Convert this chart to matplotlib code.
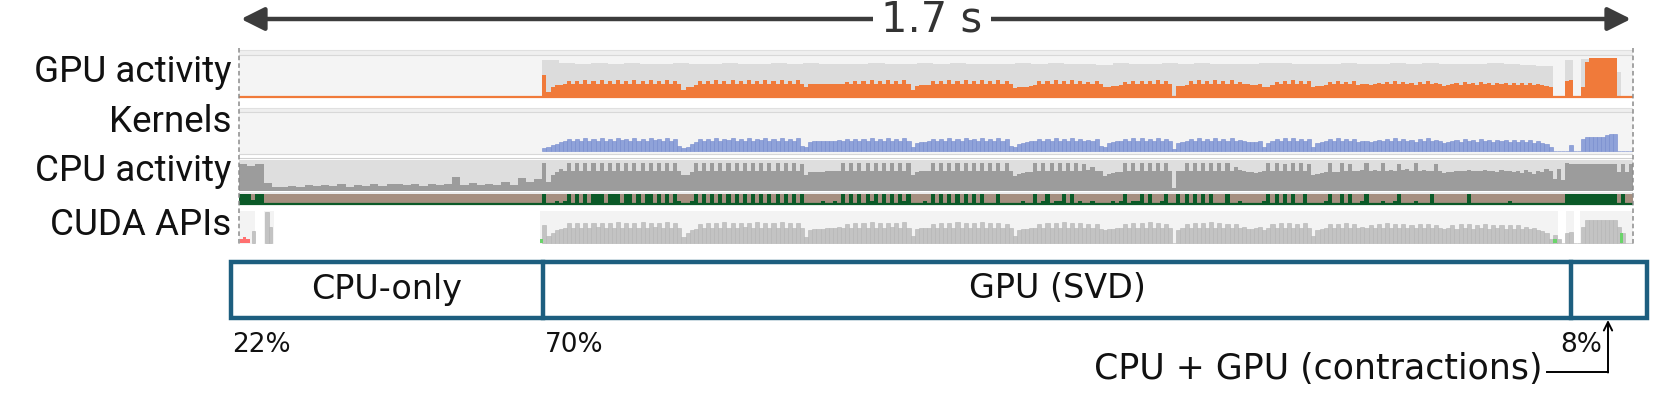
import numpy as np
import matplotlib
matplotlib.use("Agg")
import matplotlib.pyplot as plt
from matplotlib.patches import Rectangle

# ---------------- data ----------------
TOTAL_MS = 1700
track_labels = ["GPU activity", "Kernels", "CPU activity", "CUDA APIs"]
phase_labels = ["CPU-only", "GPU (SVD)", ""]
phase_pcts = ["22%", "70%", "8%"]
tail_label = "CPU + GPU (contractions)"
duration_label = "1.7 s"

# time windows (ms)
SVD_T0, SVD_T1 = 370, 1602
TAIL_T0, TAIL_T1 = 1602, 1700
PRE_T0, PRE_T1 = 0, 370

# CPU-only phase: CPU utilisation (10 ms bins, % of track)
cpu_pre = [88, 80, 88, 25, 12, 12, 16, 14, 18, 15, 20, 16, 22, 14, 20, 16, 22, 16,
           24, 24, 18, 22, 16, 24, 18, 24, 45, 20, 26, 18, 24, 20, 30, 18, 42, 30, 40]
green_pre = [100, 100, 100, 40, 100, 100]          # 5 ms bins from t=0
cuda_err_t = [1, 5, 9]
cuda_err_h = [12, 18, 12]
cuda_pre_t = [16, 32, 36]
cuda_pre_h = [36, 98, 50]
cuda_spans = [(0, 20), (30, 43), (367, 1608), (1618, 1628), (1635, 1700)]

# SVD phase: GPU envelope (20 ms bins, % of track)
gpu_max = [90, 82, 80, 81, 79, 82, 80, 80, 81, 79,
           80, 82, 80, 79, 81, 80, 82, 80, 79, 80,
           81, 80, 79, 82, 80, 81, 80, 79, 80, 82,
           80, 81, 79, 80, 78, 81, 80, 79, 82, 80,
           81, 80, 79, 80, 82, 81, 80, 79, 80, 81,
           80, 79, 82, 80, 81, 80, 79, 80, 81, 80,
           78, 74]

# SVD phase, 5 ms bins (% of track)
gpu_util = [52, 12, 22, 27, 28, 30, 38, 30, 38, 30, 40, 30, 38, 31, 40, 30, 38, 30, 40, 31,
            38, 30, 40, 30, 38, 30, 40, 31, 38, 30, 40, 30, 38, 31,
            16, 22, 24, 28, 38, 30, 38, 30, 40, 30, 38, 31, 40, 30, 38, 30, 40, 30, 38, 31,
            40, 30, 38, 30, 40, 30, 38, 30, 40, 31,
            24, 30, 30, 30, 30, 30, 30, 30, 31, 30, 36, 30, 38, 30, 38, 30, 40, 30, 38, 30,
            40, 30, 38, 30, 40, 30,
            16, 26, 28, 28, 28, 38, 30, 38, 30, 40, 30, 38, 30, 40, 31, 38, 30, 40, 30, 38,
            30, 40, 30, 38, 30,
            20, 24, 24, 24, 26, 28, 38, 30, 38, 30, 40, 30, 38, 30, 40, 30, 38, 30, 36, 30,
            38, 30,
            24, 24, 26, 26, 28, 36, 30, 38, 30, 38, 30, 38, 30, 40, 30, 38, 30,
            0, 26, 26, 28, 38, 30, 40, 30, 38, 30, 40, 30, 38, 30, 40, 30, 36, 30, 30, 28,
            28, 30, 24, 24, 28, 36, 30, 38, 30, 40, 30, 38, 30, 38,
            22, 26, 26, 28, 36, 30, 38, 30, 36, 30, 38, 28, 30, 30, 28, 30, 34, 30, 36, 30,
            38, 30, 36, 30, 34, 28, 36, 30, 38, 30, 34, 30,
            26, 28, 30, 34, 28, 36, 30, 34, 28, 36, 30, 34, 28, 34, 30, 34, 28, 34, 28, 32,
            28, 34, 28, 30, 28, 26, 22]

kernels = [6, 8, 14, 18, 22, 24, 30, 24, 30, 24, 32, 24, 30, 24, 32, 24, 30, 24, 32, 26,
           30, 24, 32, 24, 30, 24, 32, 26, 30, 24, 32, 24, 30, 12,
           6, 10, 18, 22, 30, 24, 30, 24, 32, 24, 30, 26, 32, 24, 30, 24, 32, 24, 30, 26,
           32, 24, 30, 24, 32, 24, 30, 24, 32, 12,
           8, 22, 24, 24, 24, 24, 24, 24, 26, 24, 30, 24, 30, 24, 30, 24, 32, 24, 30, 24,
           32, 24, 30, 24, 32, 24,
           8, 20, 22, 22, 24, 30, 24, 30, 24, 32, 24, 30, 24, 32, 26, 30, 24, 32, 24, 30,
           24, 32, 24, 30, 12,
           8, 18, 20, 22, 24, 24, 30, 24, 30, 24, 32, 24, 30, 24, 32, 24, 30, 24, 28, 24,
           30, 12,
           8, 20, 22, 24, 24, 30, 24, 32, 24, 32, 24, 30, 24, 32, 24, 30, 24,
           4, 20, 22, 24, 30, 24, 32, 24, 30, 24, 32, 24, 30, 24, 32, 24, 28, 24, 22, 22,
           22, 24, 8, 20, 24, 30, 24, 32, 24, 32, 24, 30, 24, 30,
           8, 20, 22, 24, 30, 24, 32, 24, 30, 24, 30, 22, 24, 24, 22, 24, 28, 24, 30, 24,
           32, 24, 30, 24, 28, 22, 30, 24, 32, 24, 28, 24,
           20, 22, 24, 28, 22, 30, 24, 28, 22, 30, 24, 28, 22, 28, 24, 28, 22, 26, 22, 26,
           22, 28, 20, 24, 20, 18, 10]

cpu_util = [90, 30, 50, 62, 70, 66, 90, 66, 90, 66, 90, 66, 90, 66, 90, 66, 90, 66, 90, 66,
            90, 66, 90, 66, 90, 66, 90, 66, 90, 66, 90, 66, 90, 66,
            52, 52, 60, 90, 66, 90, 66, 90, 66, 90, 66, 90, 66, 90, 66, 90, 66, 90, 66, 90,
            66, 90, 66, 90, 66, 90, 66, 90, 66, 88,
            50, 60, 60, 62, 62, 64, 64, 66, 66, 90, 66, 90, 66, 90, 66, 90, 66, 90, 66, 90,
            66, 90, 66, 90, 66, 90,
            50, 62, 64, 64, 64, 90, 66, 90, 66, 90, 66, 90, 66, 90, 66, 90, 66, 90, 66, 90,
            66, 90, 66, 90, 66,
            48, 56, 58, 60, 62, 90, 66, 90, 66, 90, 66, 90, 66, 90, 66, 90, 66, 86, 68, 78,
            66, 64,
            48, 56, 58, 60, 62, 90, 66, 90, 66, 90, 66, 90, 66, 90, 66, 90, 66,
            10, 64, 66, 90, 66, 90, 66, 90, 66, 90, 66, 90, 66, 90, 66, 78, 68, 64, 62, 60,
            58, 60, 66, 90, 66, 90, 66, 88, 66, 90, 66, 90, 66, 88,
            52, 56, 58, 60, 90, 60, 62, 90, 64, 88, 64, 66, 68, 90, 66, 68, 64, 90, 66, 68,
            66, 88, 68, 70, 64, 90, 66, 68, 64, 66, 88, 66,
            58, 60, 62, 64, 66, 64, 68, 66, 64, 66, 68, 64, 66, 62, 68, 64, 66, 60, 64, 58,
            68, 62, 56, 64, 60, 72, 66]

cpu_green = [100, 0, 0, 30, 0, 30, 100, 0, 100, 0, 100, 0, 100, 100, 100, 0, 100, 100, 100, 0,
             100, 100, 0, 100, 0, 100, 100, 0, 100, 0, 100, 0, 100, 30,
             0, 0, 30, 100, 0, 100, 0, 100, 0, 100, 0, 100, 0, 100, 0, 100, 0, 100, 0, 100,
             0, 100, 0, 100, 0, 100, 0, 100, 0, 100,
             0, 0, 0, 0, 30, 0, 0, 30, 0, 100, 0, 100, 0, 100, 0, 100, 30, 100, 0, 100,
             0, 100, 0, 100, 30, 100,
             0, 0, 0, 30, 0, 100, 0, 100, 0, 100, 0, 100, 0, 100, 0, 100, 0, 100, 0, 0,
             0, 100, 0, 0, 0,
             0, 0, 30, 0, 0, 100, 0, 30, 100, 0, 30, 30, 100, 0, 100, 0, 30, 0, 0, 30,
             0, 0,
             0, 0, 30, 0, 30, 100, 0, 30, 30, 100, 0, 100, 0, 0, 30, 100, 0,
             0, 100, 0, 100, 0, 100, 0, 100, 0, 100, 0, 0, 0, 100, 0, 0, 30, 0, 0, 0,
             0, 0, 30, 100, 0, 100, 0, 100, 0, 100, 0, 0, 100, 0,
             0, 0, 0, 30, 100, 0, 0, 100, 0, 100, 0, 0, 30, 100, 0, 0, 0, 30, 0, 0,
             30, 100, 0, 0, 0, 30, 0, 0, 0, 100, 0, 0,
             0, 0, 0, 0, 0, 0, 100, 0, 0, 0, 0, 0, 0, 0, 0, 0, 30, 0, 0, 0,
             0, 0, 0, 0, 0, 0, 0]

cuda_calls = [55, 20, 30, 40, 44, 46, 62, 46, 62, 46, 62, 46, 62, 48, 62, 46, 62, 46, 64, 46,
              62, 46, 62, 46, 64, 46, 62, 48, 62, 46, 64, 46, 62, 46,
              18, 30, 40, 44, 60, 46, 62, 46, 62, 46, 64, 46, 62, 46, 62, 48, 62, 46, 64, 46,
              62, 46, 62, 46, 64, 46, 62, 46, 62, 46,
              18, 40, 42, 44, 44, 46, 46, 46, 48, 46, 60, 46, 62, 46, 62, 46, 64, 46, 62, 46,
              62, 48, 62, 46, 64, 46,
              20, 44, 46, 46, 46, 60, 46, 62, 46, 62, 46, 64, 46, 62, 46, 62, 46, 64, 46, 62,
              46, 62, 46, 60, 46,
              22, 40, 42, 44, 46, 46, 60, 46, 62, 46, 62, 46, 64, 46, 62, 46, 62, 46, 60, 46,
              58, 44,
              40, 44, 44, 46, 46, 60, 46, 62, 46, 62, 46, 64, 46, 62, 46, 60, 46,
              0, 40, 46, 60, 46, 62, 46, 62, 46, 64, 46, 62, 46, 60, 46, 58, 46, 50, 44, 44,
              46, 48, 40, 46, 60, 46, 62, 46, 62, 46, 60, 46, 62, 46,
              20, 40, 44, 46, 58, 46, 60, 46, 62, 46, 58, 46, 48, 46, 56, 46, 60, 46, 62, 46,
              58, 46, 60, 46, 56, 46, 58, 46, 60, 46, 56, 46,
              44, 46, 56, 44, 58, 46, 60, 44, 56, 46, 58, 44, 56, 46, 54, 44, 56, 44, 54, 44,
              50, 42, 46, 40, 38, 30, 10]

# contraction phase (tail), 20 bins
tail_gpu_max = [0, 0, 0, 90, 90, 0, 0, 92, 92, 92, 92, 92, 92, 92, 92, 92, 60, 0, 0, 0]
tail_gpu_util = [0, 0, 0, 38, 40, 0, 0, 22, 85, 93, 93, 93, 93, 93, 93, 93, 0, 0, 0, 0]
tail_kernels = [0, 0, 0, 0, 15, 0, 0, 30, 34, 34, 34, 34, 36, 40, 42, 42, 0, 0, 0, 0]
tail_cpu = [40, 70, 35, 90, 88, 88, 88, 88, 88, 88, 88, 88, 88, 88, 88, 88, 62, 88, 60, 88]
tail_green = [0, 0, 0, 100, 100, 100, 100, 100, 100, 100, 100, 100, 100, 100, 100, 100, 0, 100, 0, 0]
tail_cuda = [24, 10, 0, 30, 34, 0, 0, 50, 70, 70, 70, 70, 72, 72, 72, 70, 50, 30, 0, 0]
cuda_ok_t = [367, 1603, 1684]
cuda_ok_h = [10, 10, 30]

# ---------------- style ----------------
ORANGE = "#f07a3a"
ENV = "#dcdcdc"
PANEL = "#f4f4f4"
LINE = "#d8d8d8"
BLUE = "#8fa2d9"
BLUE_E = "#7389cd"
CPU_DARK = "#9c9c9c"
BROWN = "#a68f80"
GREEN = "#0b5a28"
CUDA_GRAY = "#c3c3c3"
TEAL = "#1d5e7f"

W, H = 1661, 393
X0, X1 = 239, 1633

fig = plt.figure(figsize=(W / 100, H / 100), dpi=100)


def px_axes(x0, y0, x1, y1, z=1):
    ax = fig.add_axes([x0 / W, 1 - y1 / H, (x1 - x0) / W, (y1 - y0) / H], zorder=z)
    return ax


def panel(ytop, ybot, p0, p1):
    ax = px_axes(X0, ytop, X1, ybot)
    ax.set_xlim(0, TOTAL_MS)
    ax.set_ylim((p0 - ybot) / (p0 - p1), (p0 - ytop) / (p0 - p1))
    ax.axis("off")
    return ax, (lambda px: (p0 - px) / (p0 - p1))


def rect(ax, v, t0, t1, ya, yb, color, z=0):
    ax.add_patch(Rectangle((t0, v(yb)), t1 - t0, v(ya) - v(yb), color=color, lw=0, zorder=z))


def steps(ax, t0, t1, vals, color, z=2):
    vals = np.asarray(vals, float) / 100
    edges = np.linspace(t0, t1, len(vals) + 1)
    ax.fill_between(edges, np.append(vals, vals[-1]), step="post", color=color, lw=0, zorder=z)


def bars(ax, t0, t1, vals, color, ec=None, frac=1.0, z=2, lw=0.6):
    vals = np.asarray(vals, float) / 100
    n = len(vals)
    w = (t1 - t0) / n
    x = t0 + w * np.arange(n)
    ax.bar(x, vals, width=w * frac, align="edge", color=color,
           edgecolor=ec if ec else color, lw=lw if ec else 0, zorder=z)


# --- GPU activity ---
ax, v = panel(48, 99, 96.5, 55.5)
rect(ax, v, 0, TOTAL_MS, 55, 97.5, PANEL)
rect(ax, v, 0, TOTAL_MS, 50, 55, "#efefef")
ax.axhline(v(50), color="#e0e0e0", lw=0.8)
ax.axhline(v(55), color=LINE, lw=0.8)
steps(ax, SVD_T0, SVD_T1, gpu_max, ENV, z=1)
steps(ax, SVD_T0, SVD_T1, gpu_util, ORANGE)
steps(ax, TAIL_T0, TAIL_T1, tail_gpu_max, ENV, z=1)
steps(ax, TAIL_T0, TAIL_T1, tail_gpu_util, ORANGE)
ax.axhline(0, color=ORANGE, lw=1.6, zorder=3)

# --- Kernels ---
ax, v = panel(106, 156, 150.5, 112)
rect(ax, v, 0, TOTAL_MS, 112, 153.5, PANEL)
rect(ax, v, 0, TOTAL_MS, 108, 112, "#efefef")
ax.axhline(v(108), color="#e0e0e0", lw=0.8)
ax.axhline(v(112), color=LINE, lw=0.8)
ax.axhline(v(153.5), color=LINE, lw=0.8)
bars(ax, SVD_T0, SVD_T1, kernels, BLUE, ec=BLUE_E, lw=0.4)
bars(ax, TAIL_T0, TAIL_T1, tail_kernels, BLUE, ec=BLUE_E, lw=0.4)

# --- CPU activity ---
ax, v = panel(157, 192, 191, 160)
ax.axhline(v(158.5), color="#d0d0d0", lw=0.8)
rect(ax, v, 0, TOTAL_MS, 160, 191, "#dedede")
steps(ax, PRE_T0, PRE_T1, cpu_pre, CPU_DARK)
steps(ax, SVD_T0, SVD_T1, cpu_util, CPU_DARK)
steps(ax, TAIL_T0, TAIL_T1, tail_cpu, CPU_DARK)

# --- CPU thread state strip ---
ax, v = panel(192, 206, 203.5, 194)
rect(ax, v, 0, TOTAL_MS, 192, 194, "#ececec")
rect(ax, v, 0, TOTAL_MS, 194, 203.5, BROWN)
ax.axhline(v(203.5), color=GREEN, lw=1.6, zorder=3)
steps(ax, 0, 5 * len(green_pre), green_pre, GREEN)
steps(ax, SVD_T0, SVD_T1, cpu_green, GREEN)
steps(ax, TAIL_T0, TAIL_T1, tail_green, GREEN)

# --- CUDA APIs ---
ax, v = panel(209, 247, 242.5, 211)
for a, b in cuda_spans:
    rect(ax, v, a, b, 211, 244, "#f3f3f3")
ax.bar(cuda_err_t, np.array(cuda_err_h) / 100, width=4, align="edge", color="#ff7070", lw=0, zorder=2)
ax.bar(cuda_pre_t, np.array(cuda_pre_h) / 100, width=4, align="edge", color=CUDA_GRAY,
       edgecolor="#b0b0b0", lw=0.4, zorder=2)
bars(ax, SVD_T0, SVD_T1, cuda_calls, CUDA_GRAY, ec="#b3b3b3", lw=0.4)
bars(ax, TAIL_T0, TAIL_T1, tail_cuda, CUDA_GRAY, ec="#b3b3b3", lw=0.4)
ax.bar(cuda_ok_t, np.array(cuda_ok_h) / 100, width=4, align="edge", color="#6ad46a", lw=0, zorder=3)

# --- overlay: labels, arrow, phase box ---
ov = px_axes(0, 0, W, H, z=10)
ov.set_xlim(0, W)
ov.set_ylim(H, 0)
ov.axis("off")
ov.patch.set_alpha(0)

for xx in (X0, X1):
    ov.plot([xx, xx], [48, 246], color="#8c8c8c", lw=1.1, ls=(0, (3, 2)))

lab_font = dict(family=["Roboto", "DejaVu Sans"], fontsize=26.5, color="#111111")
for lab, yy in zip(track_labels, [72, 122, 171, 225]):
    ov.text(231, yy, lab, ha="right", va="center", **lab_font)

narrow = ["DejaVu Sans"]
ov.annotate("", xy=(241, 19), xytext=(1631, 19),
            arrowprops=dict(arrowstyle="<|-|>,head_length=1.4,head_width=0.7",
                            color="#3c3c3c", lw=3.2, shrinkA=0, shrinkB=0))
ov.text(932, 19, duration_label, ha="center", va="center", fontsize=30, family=narrow,
        color="#333333", bbox=dict(facecolor="white", edgecolor="none", pad=6))

# phase box
bx0, bx1, by0, by1 = 231, 1647, 262, 318
divs = [543, 1571]
ov.add_patch(Rectangle((bx0, by0), bx1 - bx0, by1 - by0, fill=False, ec=TEAL, lw=3.2))
for d in divs:
    ov.plot([d, d], [by0, by1], color=TEAL, lw=3.2)
edges = [bx0] + divs + [bx1]
for i, lab in enumerate(phase_labels):
    if lab:
        ov.text((edges[i] + edges[i + 1]) / 2, 289, lab, ha="center", va="center",
                fontsize=24, family=narrow, color="#111111")
pct_font = dict(fontsize=19, family=narrow, color="#111111", va="center")
ov.text(232, 345, phase_pcts[0], ha="left", **pct_font)
ov.text(545, 345, phase_pcts[1], ha="left", **pct_font)
ov.text(1602, 345, phase_pcts[2], ha="right", **pct_font)

ov.text(1543, 369, tail_label, ha="right", va="center", fontsize=25, family=narrow,
        color="#111111")
ov.plot([1547, 1608], [372, 372], color="black", lw=1.4)
ov.annotate("", xy=(1608, 320), xytext=(1608, 372.5),
            arrowprops=dict(arrowstyle="->,head_length=0.6,head_width=0.3",
                            color="black", lw=1.4, shrinkA=0, shrinkB=0))

fig.savefig("out.png", dpi=100)
